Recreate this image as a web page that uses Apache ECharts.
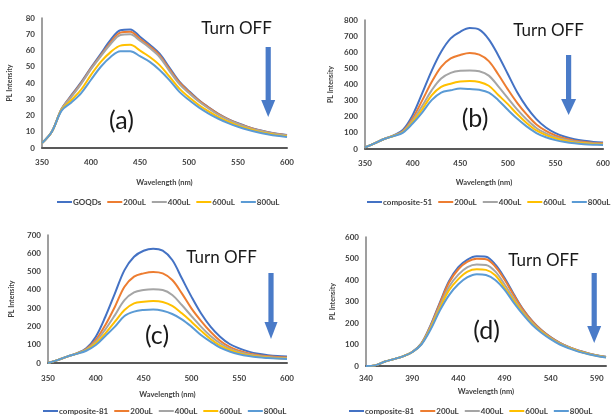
<!DOCTYPE html>
<html><head><meta charset="utf-8">
<script src="https://cdn.jsdelivr.net/npm/echarts@6/dist/echarts.min.js"></script>
<style>html,body{margin:0;padding:0;background:#fff}#c{width:613px;height:418px}</style>
</head><body><div id="c"></div>
<script>
// ---------- data ----------
const wavelengthABC = [350,360,370,380,390,400,410,420,430,440,450,460,470,480,490,500,510,520,530,540,550,560,570,580,590,600];
const wavelengthD = [340,350,360,370,380,390,400,410,420,430,440,450,460,470,480,490,500,510,520,530,540,550,560,570,580,590,600];

const legendA = ['GOQDs','200uL','400uL','600uL','800uL'];
const legendB = ['composite-51','200uL','400uL','600uL','800uL'];
const legendC = ['composite-81','200uL','400uL','600uL','800uL'];
const legendD = ['composite-81','200uL','400uL','600uL','800uL'];

// panel (a)
const a0 = [3,10,24,32.5,40.5,49.5,58,66.5,72.5,73,68.5,63.5,58,49.5,41,35,29.5,25,21,17.8,15.2,13,11.2,9.8,8.7,8];
const a1 = [3,10,24,32,40,49,57,65,71,71.5,67,62.5,57,48.5,40.5,34.5,29.2,24.8,20.8,17.6,15,12.9,11.1,9.7,8.6,7.9];
const a2 = [3,10,24,31.5,39.5,48.5,56.5,64,69.5,70,66,61.5,56,47.5,39.5,33.8,28.6,24.3,20.4,17.3,14.8,12.7,10.9,9.5,8.4,7.7];
const a3 = [3,10,23.5,29.5,36,45,53,59,63,63.5,60,56,51,44,36.7,31.2,26.5,22.5,19,16.2,13.8,11.9,10.2,8.9,7.9,7.2];
const a4 = [3,10,23,28,33.8,42,50,56,59.5,59.5,56.5,53,48,41.8,34.7,29.5,25,21.2,18,15.3,13.1,11.2,9.7,8.5,7.5,6.8];

// panel (b)
const b0 = [10,35,62,85,120,210,345,485,603,686,727,750,740,680,580,465,350,258,185,133,98,76,61,51,44,40];
const b1 = [10,35,62,83,112,190,300,415,510,562,583,595,585,545,462,370,285,213,152,112,84,65,52,44,38,35];
const b2 = [10,35,62,82,108,178,267,364,437,472,485,487,482,455,388,316,244,182,130,97,73,57,46,39,34,31];
const b3 = [10,35,62,81,105,168,245,333,385,405,418,422,416,392,335,278,215,160,115,86,65,51,41,35,31,28];
const b4 = [10,35,62,80,102,158,226,303,350,364,375,372,367,350,303,243,187,139,99,73,55,43,35,30,27,25];

// panel (c)
const c0 = [0,16,35,53,80,144,253,381,508,581,614,625,614,563,463,363,272,199,144,104,80,62,50,43,38,35];
const c1 = [0,16,35,52,76,126,208,308,417,472,490,498,490,454,381,299,231,171,122,88,67,52,43,37,33,30];
const c2 = [0,16,35,52,73,117,184,262,344,386,399,403,399,372,317,257,199,148,108,79,60,47,39,33,29,27];
const c3 = [0,16,35,51,70,108,162,226,290,326,335,339,334,312,272,226,177,131,95,71,54,42,35,30,26,24];
const c4 = [0,16,35,50,67,98,148,199,257,281,290,293,286,268,239,199,153,117,84,63,48,38,31,27,24,22];

// panel (d)
const d0 = [0,3,20,32,45,65,105,190,295,395,460,495,510,508,472,410,335,265,210,168,135,108,88,72,60,50,43];
const d1 = [0,3,20,32,45,65,104,187,290,388,450,485,499,497,463,402,330,262,208,166,133,107,87,71,59,49,42];
const d2 = [0,3,20,32,45,65,103,182,278,369,425,460,472,470,440,380,315,252,202,162,130,105,86,70,58,49,42];
const d3 = [0,3,20,32,45,64,102,176,268,352,404,439,450,447,422,365,305,246,197,159,128,103,84,69,57,48,41];
const d4 = [0,3,20,32,45,64,100,170,258,330,380,413,427,423,400,355,295,240,192,155,125,100,82,67,56,47,40];

const yMax = [80, 800, 700, 600];
const yStep = [10, 100, 100, 100];
const panelLabels = ['(a)','(b)','(c)','(d)'];
const annotation = 'Turn OFF';
const xName = 'Wavelength (nm)';
const yName = 'PL Intensity';

// ---------- assembly ----------
const panelCats = [wavelengthABC, wavelengthABC, wavelengthABC, wavelengthD];
const panelNames = [legendA, legendB, legendC, legendD];
const panelValues = [[a0,a1,a2,a3,a4],[b0,b1,b2,b3,b4],[c0,c1,c2,c3,c4],[d0,d1,d2,d3,d4]];

// ---------- layout / style ----------
const colors = ['#4472C4','#ED7D31','#A5A5A5','#FFC000','#5B9BD5'];
const FONT = 'Lato, "Open Sans", sans-serif';
const grids = [
  {left:42, top:18, width:245, height:130},
  {left:365, top:20, width:241, height:129},
  {left:48, top:235, width:239, height:128},
  {left:366, top:237, width:240, height:129}
];
const xLabelMargin = [10,10,11,8];
const xNameGap = [31,30,28,22];
const yNameGap = [29,31,33,30];
const legendPos = [{left:57, top:198},{left:367, top:198},{left:43, top:407},{left:349, top:407}];
const turnOffPos = [[236.5,29],[548.5,31],[221.5,257.5],[543.5,261]];
const letterPos = [[121.5,121],[475,118.5],[157,336],[486.5,331]];
const arrows = [
  {cx:268.2, top:47, headTop:100, tip:117, hw:7},
  {cx:568.6, top:55, headTop:99, tip:115, hw:7.5},
  {cx:271, top:273, headTop:322, tip:339, hw:6.5},
  {cx:594.2, top:273, headTop:326, tip:343, hw:7}
];

const axisLabelStyle = {fontFamily: FONT, fontSize: 8, fontWeight: 'bold', color: '#404040'};
const option = {
  animation: false,
  backgroundColor: '#fff',
  color: colors,
  grid: grids.map(g => Object.assign({containLabel:false}, g)),
  xAxis: [], yAxis: [], series: [], legend: [], graphic: []
};

for (let p = 0; p < 4; p++) {
  option.xAxis.push({
    type: 'category', gridIndex: p, data: panelCats[p].map(String), boundaryGap: false,
    axisLine: {lineStyle: {color: '#595959', width: 2}},
    axisTick: {show: false},
    axisLabel: Object.assign({interval: 4, margin: xLabelMargin[p]}, axisLabelStyle),
    splitLine: {show: false},
    name: xName, nameLocation: 'middle', nameGap: xNameGap[p],
    nameTextStyle: {fontFamily: FONT, fontSize: 7.5, fontWeight: 'bold', color: '#404040'}
  });
  option.yAxis.push({
    type: 'value', gridIndex: p, min: 0, max: yMax[p], interval: yStep[p],
    axisLine: {show: true, lineStyle: {color: '#7f7f7f', width: 1.5}},
    axisTick: {show: false},
    axisLabel: Object.assign({margin: 7}, axisLabelStyle),
    splitLine: {show: false},
    name: yName, nameLocation: 'middle', nameGap: yNameGap[p], nameRotate: 90,
    nameTextStyle: {fontFamily: FONT, fontSize: 7, fontWeight: 'bold', color: '#404040'}
  });
  panelValues[p].forEach((vals, i) => {
    option.series.push({
      type: 'line', name: panelNames[p][i], xAxisIndex: p, yAxisIndex: p,
      data: vals, smooth: 0.35, symbol: 'none',
      lineStyle: {width: 2, color: colors[i]}, itemStyle: {color: colors[i]}
    });
  });
  option.legend.push(Object.assign({
    data: panelNames[p], icon: 'rect', itemWidth: 15, itemHeight: 2, itemGap: 6,
    padding: 0,
    textStyle: {fontFamily: FONT, fontSize: 8, fontWeight: 'bold', color: '#404040', padding: [0,0,0,-4]}
  }, legendPos[p]));

  option.graphic.push({
    type: 'text', x: turnOffPos[p][0], y: turnOffPos[p][1],
    style: {text: annotation, fontFamily: FONT, fontSize: 17, fill: '#1a1a1a', align: 'center', verticalAlign: 'middle'}
  });
  option.graphic.push({
    type: 'text', x: letterPos[p][0], y: letterPos[p][1],
    style: {text: panelLabels[p], fontFamily: FONT, fontSize: 25, fill: '#1a1a1a', align: 'center', verticalAlign: 'middle'}
  });
  const a = arrows[p];
  option.graphic.push({
    type: 'rect', shape: {x: a.cx - 2.6, y: a.top, width: 5.2, height: a.headTop - a.top + 1},
    style: {fill: '#4A7BC8'}
  });
  option.graphic.push({
    type: 'polygon', shape: {points: [[a.cx - a.hw, a.headTop], [a.cx + a.hw, a.headTop], [a.cx, a.tip]]},
    style: {fill: '#4A7BC8'}
  });
}

const chart = echarts.init(document.getElementById('c'), null, {renderer: 'canvas'});
chart.setOption(option);
</script>
</body></html>
